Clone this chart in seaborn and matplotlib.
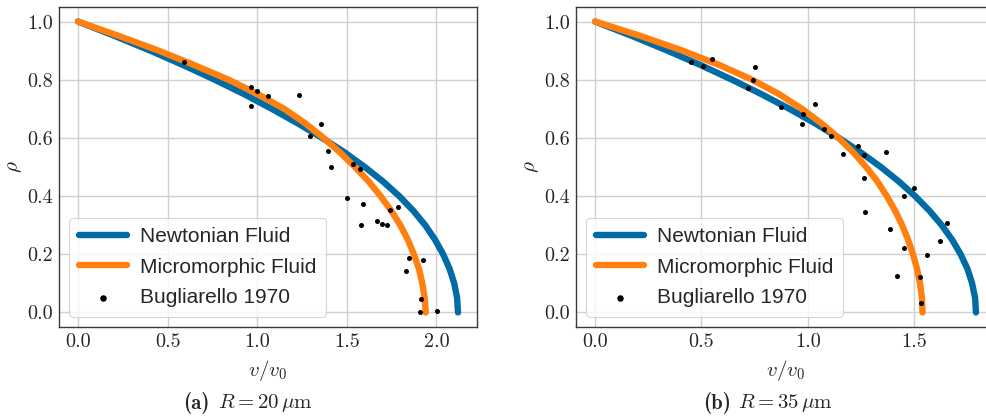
import numpy as np
import pandas as pd
import matplotlib
matplotlib.use("Agg")
import matplotlib.pyplot as plt
import seaborn as sns

# ---------------- data ----------------
rho = [1.00, 0.95, 0.90, 0.85, 0.80, 0.75, 0.70, 0.65, 0.60, 0.55, 0.50,
       0.45, 0.40, 0.35, 0.30, 0.25, 0.20, 0.15, 0.10, 0.05, 0.00]

# panel (a) R = 20 um
newt_a = [0.000, 0.207, 0.403, 0.588, 0.763, 0.928, 1.081, 1.226, 1.362, 1.488, 1.600,
          1.702, 1.792, 1.870, 1.937, 1.992, 2.037, 2.073, 2.099, 2.115, 2.120]
micro_a = [0.000, 0.230, 0.450, 0.650, 0.840, 1.005, 1.150, 1.268, 1.370, 1.462, 1.545,
           1.622, 1.688, 1.747, 1.798, 1.840, 1.874, 1.902, 1.921, 1.934, 1.940]
exp_a_v = [0.590, 0.967, 0.996, 1.061, 0.967, 1.234, 1.358, 1.293, 1.393, 1.410, 1.532,
           1.571, 1.499, 1.592, 1.579, 1.670, 1.696, 1.725, 1.740, 1.783, 1.846, 1.829,
           1.924, 1.915, 1.909, 2.004]
exp_a_rho = [0.860, 0.774, 0.761, 0.744, 0.711, 0.747, 0.648, 0.606, 0.554, 0.500, 0.511,
             0.493, 0.393, 0.374, 0.300, 0.313, 0.303, 0.299, 0.351, 0.362, 0.188, 0.141,
             0.179, 0.046, 0.001, 0.005]

# panel (b) R = 35 um
newt_b = [0.000, 0.175, 0.340, 0.497, 0.644, 0.783, 0.913, 1.034, 1.146, 1.249, 1.343,
          1.428, 1.504, 1.571, 1.629, 1.678, 1.718, 1.750, 1.772, 1.786, 1.790]
micro_b = [0.000, 0.216, 0.411, 0.586, 0.738, 0.866, 0.972, 1.064, 1.144, 1.214, 1.274,
           1.327, 1.371, 1.410, 1.443, 1.471, 1.494, 1.513, 1.527, 1.536, 1.539]
exp_b_v = [0.450, 0.509, 0.549, 0.751, 0.740, 0.721, 0.873, 0.975, 0.972, 1.034, 1.075,
           1.111, 1.163, 1.237, 1.266, 1.263, 1.270, 1.368, 1.450, 1.497, 1.384, 1.450,
           1.417, 1.525, 1.531, 1.560, 1.622, 1.654]
exp_b_rho = [0.862, 0.846, 0.872, 0.844, 0.800, 0.771, 0.706, 0.681, 0.647, 0.718, 0.630,
             0.608, 0.544, 0.571, 0.540, 0.463, 0.346, 0.553, 0.401, 0.427, 0.288, 0.220,
             0.127, 0.122, 0.032, 0.198, 0.244, 0.306]

labels = ["Newtonian Fluid", "Micromorphic Fluid", "Bugliarello 1970"]
cap_tags = ["(a)", "(b)"]
cap_texts = [r"$R = 20\,\mathrm{\mu m}$", r"$R = 35\,\mathrm{\mu m}$"]
xticks_a = [0.0, 0.5, 1.0, 1.5, 2.0]
xticks_b = [0.0, 0.5, 1.0, 1.5]
yticks = [0.0, 0.2, 0.4, 0.6, 0.8, 1.0]

# ---------------- style ----------------
sns.set_style("whitegrid")
plt.rcParams.update({
    "font.family": ["cmr10", "DejaVu Serif"],
    "mathtext.fontset": "cm",
    "axes.formatter.use_mathtext": True,
    "axes.edgecolor": "#3a3a3a",
    "axes.linewidth": 1.0,
    "grid.color": "#d0d0d0",
    "grid.linewidth": 1.0,
})
BLUE = "#006BA4"
ORANGE = "#FF800E"

W, H = 987, 418
fig = plt.figure(figsize=(W / 100, H / 100), dpi=100)
ax1 = fig.add_axes([59 / W, (H - 327) / H, 418 / W, 320 / H])
ax2 = fig.add_axes([576 / W, (H - 327) / H, 419 / W, 320 / H])

panels = [
    (ax1, newt_a, micro_a, exp_a_v, exp_a_rho, xticks_a),
    (ax2, newt_b, micro_b, exp_b_v, exp_b_rho, xticks_b),
]

for ax, nv, mv, ev, er, xt in panels:
    sns.lineplot(x=nv, y=rho, ax=ax, sort=False, estimator=None, color=BLUE,
                 linewidth=4.6, label=labels[0])
    sns.lineplot(x=mv, y=rho, ax=ax, sort=False, estimator=None, color=ORANGE,
                 linewidth=4.6, label=labels[1])
    sns.scatterplot(x=ev, y=er, ax=ax, color="black", s=13, linewidth=0,
                    label=labels[2], zorder=5)
    ax.set_xticks(xt)
    ax.set_yticks(yticks)
    ax.set_xticklabels([f"{t:.1f}" for t in xt])
    ax.set_yticklabels([f"{t:.1f}" for t in yticks])
    ax.tick_params(axis="both", length=0, pad=4.5, labelsize=14.5, colors="#262626")
    ax.set_xlabel(r"$v/v_0$", fontsize=15, labelpad=5)
    ax.set_ylabel(r"$\rho$", fontsize=15, labelpad=2)
    for s in ax.spines.values():
        s.set_visible(True)
        s.set_color("#3a3a3a")
    leg = ax.legend(loc="lower left", prop={"family": "Liberation Sans", "size": 15},
                    handlelength=2.3, handletextpad=0.65, labelspacing=0.55,
                    borderpad=0.45, framealpha=0.8, edgecolor="#cccccc",
                    fancybox=True, markerscale=1.3)
    leg.get_frame().set_linewidth(0.8)

cap_x = [(183, 218), (703, 738)]
for (xt_, xr_), tag, txt in zip(cap_x, cap_tags, cap_texts):
    fig.text(xt_ / W, 1 - 403 / H, tag, ha="left", va="center", fontsize=15,
             family=["cmb10", "DejaVu Serif"])
    fig.text(xr_ / W, 1 - 403 / H, txt, ha="left", va="center", fontsize=15)

fig.savefig("out.png", dpi=100)
